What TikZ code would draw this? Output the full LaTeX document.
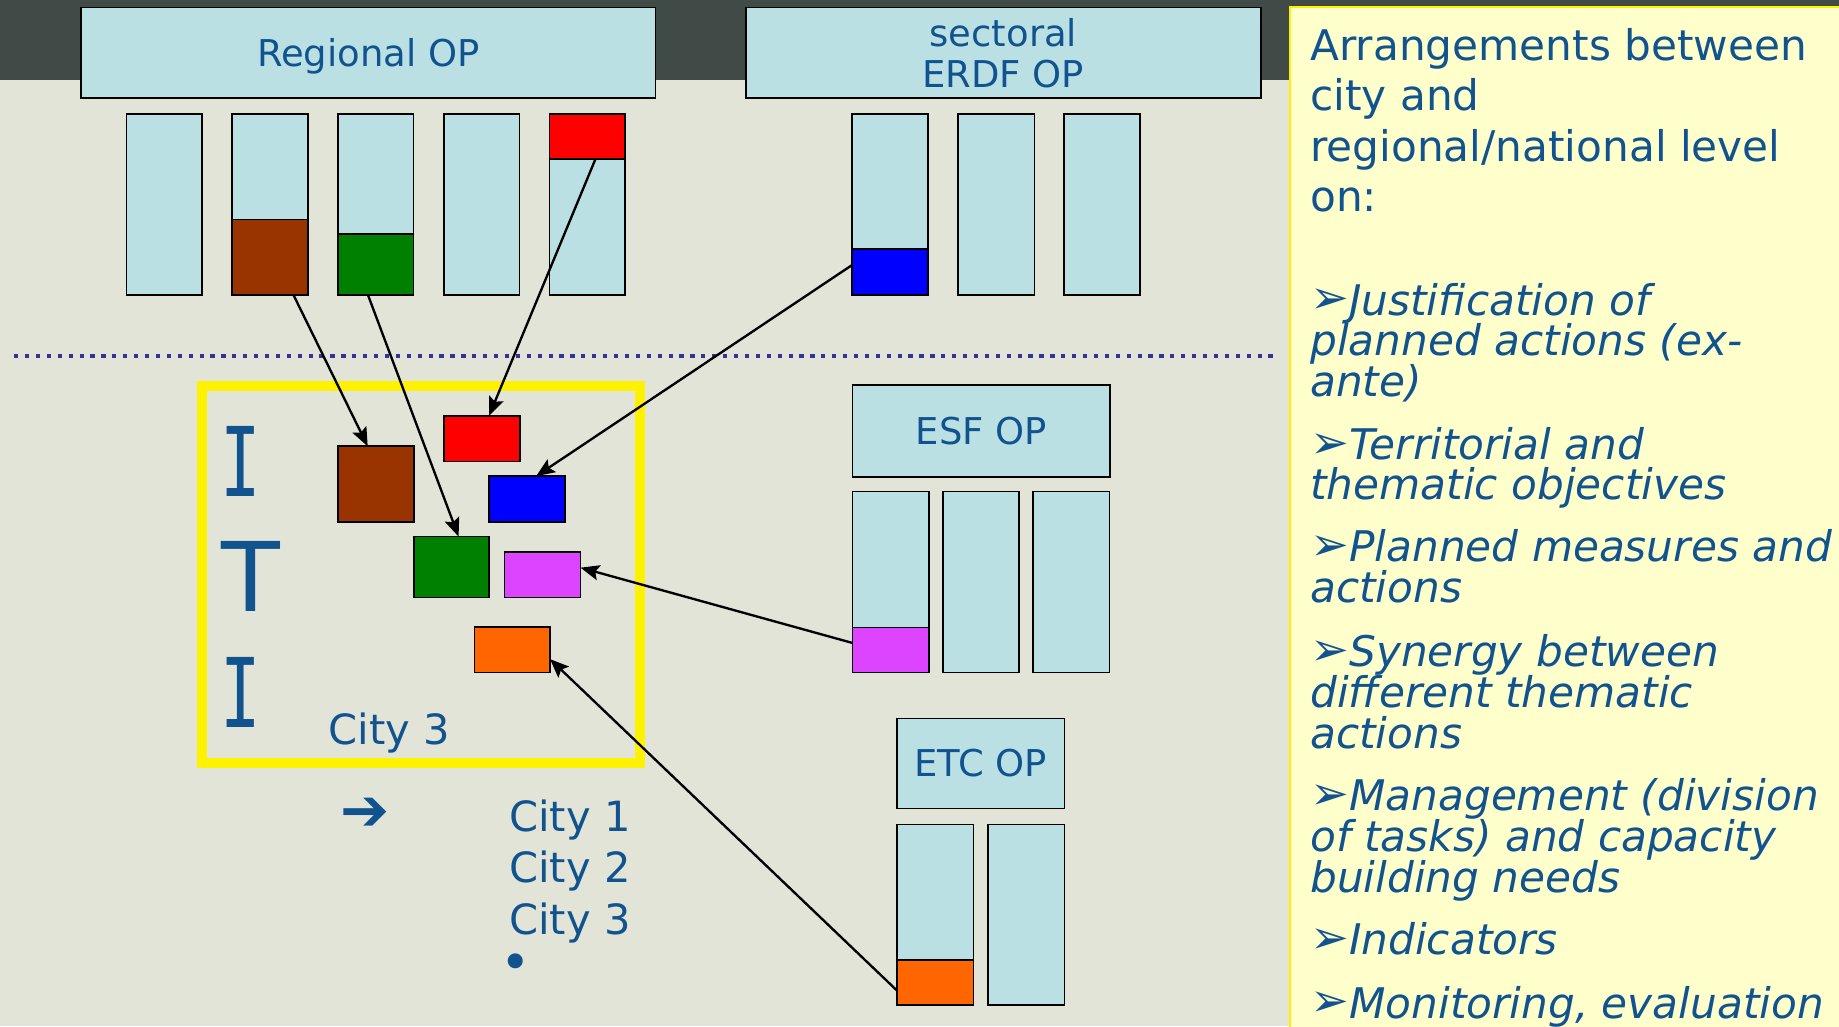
\documentclass[tikz,border=0pt]{standalone}
\usepackage{fontspec}
\setmainfont{DejaVu Sans}
\newfontfamily\itifont{DejaVu Sans Mono}
\usetikzlibrary{arrows.meta,calc}
\definecolor{bgdark}{HTML}{404B48}
\definecolor{bglight}{HTML}{E3E4D8}
\definecolor{panel}{HTML}{FFFFCC}
\definecolor{boxblue}{HTML}{BBE0E3}
\definecolor{txtblue}{HTML}{11538F}
\definecolor{cbrown}{HTML}{993300}
\definecolor{cgreen}{HTML}{008000}
\definecolor{cred}{HTML}{FF0000}
\definecolor{cblue}{HTML}{0000FF}
\definecolor{cmag}{HTML}{DD44FF}
\definecolor{corange}{HTML}{FF6600}
\definecolor{dotblue}{HTML}{333399}
\newcommand\bul{{\upshape\raisebox{1pt}{\scalebox{1.1}{➢}}}}
\tikzset{
  opbox/.style={draw=black, line width=1.4pt, fill=boxblue, inner sep=0pt, outer sep=0pt, anchor=north west,
    text=txtblue, font=\fontsize{31.5}{36}\selectfont, align=center},
  colbox/.style={draw=black, line width=1.4pt, fill=boxblue, inner sep=0pt, outer sep=0pt, anchor=north west},
  seg/.style={draw=black, line width=1.4pt, inner sep=0pt, outer sep=0pt, anchor=north west},
  link/.style={draw=black, line width=2pt, -{Stealth[length=16pt,width=13pt,inset=3pt]}},
  ptext/.style={text=txtblue, inner sep=0pt, anchor=base west, font=\fontsize{36}{36}\selectfont},
  pitem/.style={text=txtblue, inner sep=0pt, anchor=base west, font=\fontsize{36}{36}\selectfont\itshape},
  city/.style={text=txtblue, inner sep=0pt, anchor=base west, font=\fontsize{35.5}{35}\selectfont},
  itiletter/.style={text=txtblue, inner sep=0pt, anchor=base},
}
\begin{document}
\begin{tikzpicture}[x=1pt,y=-1pt]
\useasboundingbox (0,0) rectangle (1568,875);
% background
\fill[bglight] (0,0) rectangle (1568,875);
\fill[bgdark] (0,0) rectangle (1568,68);
% right panel
\fill[panel] (1100,6) rectangle (1580,885);
\draw[yellow, line width=2pt] (1100,885) -- (1100,6) -- (1580,6);

% top OP boxes
\node[opbox, text depth=0pt, minimum width=490pt, minimum height=77pt] (reg) at (69,6.5) {Regional OP};
\node[opbox, minimum width=439pt, minimum height=77pt] (erdf) at (636,6.5) {\raisebox{-3pt}{sectoral}\\\raisebox{-2pt}{ERDF OP}};

% regional columns
\node[colbox, minimum width=64.5pt, minimum height=154.5pt] (r1) at (108,97) {};
\node[colbox, minimum width=64.5pt, minimum height=154.5pt] (r2) at (198,97) {};
\node[colbox, minimum width=64.5pt, minimum height=154.5pt] (r3) at (288,97) {};
\node[colbox, minimum width=64.5pt, minimum height=154.5pt] (r4) at (378.5,97) {};
\node[colbox, minimum width=64.5pt, minimum height=154.5pt] (r5) at (468.5,97) {};
\node[seg, fill=cbrown, minimum width=64.5pt, minimum height=64.5pt] (bseg) at (198,187) {};
\node[seg, fill=cgreen, minimum width=64.5pt, minimum height=52pt] (gseg) at (288,199.5) {};
\node[seg, fill=cred, minimum width=64.5pt, minimum height=38.5pt] (rseg) at (468.5,97) {};

% ERDF columns
\node[colbox, minimum width=65pt, minimum height=154.5pt] (e1) at (726.5,97) {};
\node[colbox, minimum width=65pt, minimum height=154.5pt] (e2) at (817,97) {};
\node[colbox, minimum width=65pt, minimum height=154.5pt] (e3) at (907,97) {};
\node[seg, fill=cblue, minimum width=65pt, minimum height=39pt] (blseg) at (726.5,212.5) {};

% dotted separator
\coordinate (dl) at (12,303.5);
\coordinate (dr) at (1088,303.5);
\draw[dotblue, line width=3.6pt, dash pattern=on 3.6pt off 5.7pt] (dl) -- (dr);

% ESF
\node[opbox, minimum width=219.5pt, minimum height=78pt] (esf) at (727,328.5) {ESF OP};
\node[colbox, minimum width=65pt, minimum height=154.5pt] (s1) at (727,419) {};
\node[colbox, minimum width=65pt, minimum height=154.5pt] (s2) at (804,419) {};
\node[colbox, minimum width=65pt, minimum height=154.5pt] (s3) at (881,419) {};
\node[seg, fill=cmag, minimum width=65pt, minimum height=38.5pt] (mseg) at (727,535) {};

% ETC
\node[opbox, minimum width=142.5pt, minimum height=77pt] (etc) at (765,612.5) {ETC OP};
\node[colbox, minimum width=65pt, minimum height=154pt] (t1) at (765,703) {};
\node[colbox, minimum width=65pt, minimum height=154pt] (t2) at (842.5,703) {};
\node[seg, fill=corange, minimum width=65pt, minimum height=38.5pt] (oseg) at (765,818.5) {};

% ITI frame
\node[draw=yellow, line width=8.5pt, inner sep=0pt, outer sep=0pt, anchor=north west, minimum width=373.5pt, minimum height=321.5pt] (iti) at (172.5,329) {};
\node[itiletter, font=\itifont\fontsize{82}{82}\selectfont] (i1) at (205.3,423.5) {\scalebox{0.7}[1]{I}};
\node[itiletter, font=\fontsize{82}{82}\selectfont] (t) at (213.6,521.8) {T};
\node[itiletter, font=\itifont\fontsize{82}{82}\selectfont] (i2) at (205.3,620) {\scalebox{0.7}[1]{I}};
\node[city] (c3in) at (280,635) {City 3};

% small boxes inside ITI
\node[seg, fill=cbrown, minimum width=65pt, minimum height=64.5pt] (sb) at (288,380.5) {};
\node[seg, fill=cred, minimum width=65pt, minimum height=39pt] (sr) at (378.5,354.5) {};
\node[seg, fill=cblue, minimum width=65pt, minimum height=39pt] (sbl) at (417,406) {};
\node[seg, fill=cgreen, minimum width=64pt, minimum height=52pt] (sg) at (353,457.5) {};
\node[seg, fill=cmag, minimum width=65pt, minimum height=39pt] (sm) at (430,470.5) {};
\node[seg, fill=corange, minimum width=64.5pt, minimum height=39pt] (so) at (404.5,534.5) {};

% connectors
\draw[link] ([xshift=20pt]bseg.south) -- ([xshift=-7pt]sb.north);
\draw[link] ([xshift=-6.5pt]gseg.south) -- ([xshift=6pt]sg.north);
\draw[link] ([xshift=7pt]rseg.south) -- ([xshift=6pt]sr.north);
\draw[link] ([yshift=6pt]blseg.west) -- ([xshift=7.6pt]sbl.north);
\draw[link] ([yshift=6pt]mseg.west) -- ([yshift=6pt]sm.east);
\draw[link] ([yshift=-7pt]oseg.west) -- ([yshift=-8pt]so.east);

% city list
\node[text=txtblue, inner sep=0pt, font=\fontsize{50}{50}\selectfont] (arr) at (311,694) {➔};
\node[city] (c1) at (434,708.6) {City 1};
\node[city] (c2) at (434,752.6) {City 2};
\node[city] (c3) at (434,796.4) {City 3};
\node[text=txtblue, inner sep=0pt, font=\fontsize{44}{44}\selectfont] (dot) at (440,825) {•};

% right panel text
\node[ptext] (p1) at (1117,51.2) {Arrangements between};
\node[ptext] (p2) at (1117,93.8) {city and};
\node[ptext] (p3) at (1117,137.9) {regional/national level};
\node[ptext] (p4) at (1117,180.5) {on:};
\node[pitem] (a1) at (1117,268.6) {\bul Justification of};
\node[pitem] (a2) at (1117,302.7) {planned actions (ex-};
\node[pitem] (a3) at (1117,337.7) {ante)};
\node[pitem] (b1) at (1117,391.7) {\bul Territorial and};
\node[pitem] (b2) at (1117,426) {thematic objectives};
\node[pitem] (c1i) at (1117,479) {\bul Planned measures and};
\node[pitem] (c2i) at (1117,514) {actions};
\node[pitem] (d1) at (1117,568) {\bul Synergy between};
\node[pitem] (d2) at (1117,603) {different thematic};
\node[pitem] (d3) at (1117,638) {actions};
\node[pitem] (f1) at (1117,691) {\bul Management (division};
\node[pitem] (f2) at (1117,726) {of tasks) and capacity};
\node[pitem] (f3) at (1117,761) {building needs};
\node[pitem] (g1) at (1117,814) {\bul Indicators};
\node[pitem] (h1) at (1117,868) {\bul Monitoring, evaluation};
\end{tikzpicture}
\end{document}
